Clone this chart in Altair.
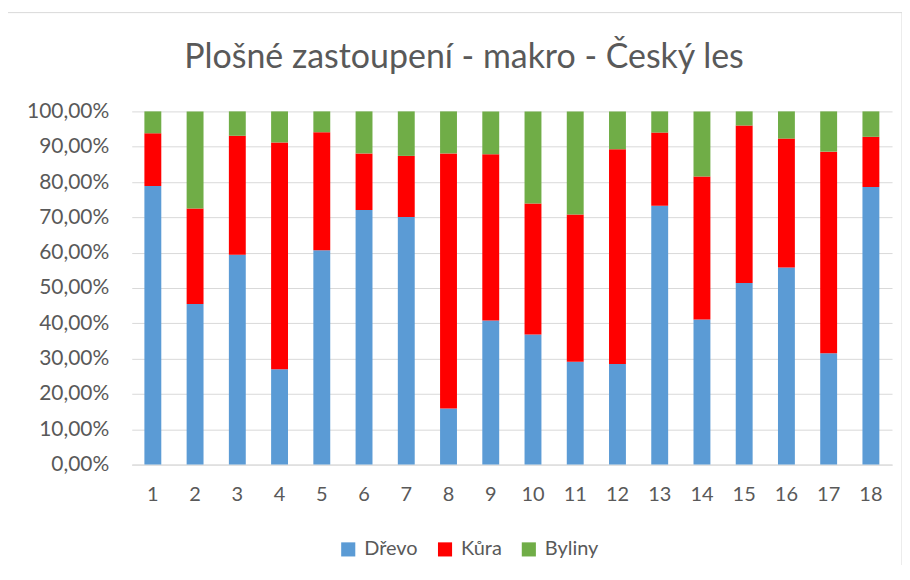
import altair as alt
import pandas as pd

title_text = "Plošné zastoupení - makro - Český les"
categories = [str(i) for i in range(1, 19)]
series = ["Dřevo", "Kůra", "Byliny"]
colors = ["#5B9BD5", "#FF0000", "#70AD47"]

drevo = [78.9, 45.5, 59.4, 27.0, 60.7, 72.1, 70.1, 15.9, 40.8, 36.8, 29.1, 28.5, 73.3, 41.1, 51.4, 55.8, 31.5, 78.6]
kura = [14.9, 27.0, 33.7, 64.2, 33.4, 16.0, 17.3, 72.2, 47.1, 37.1, 41.7, 60.8, 20.7, 40.5, 44.6, 36.5, 57.1, 14.2]
byliny = [6.2, 27.5, 6.9, 8.8, 5.9, 11.9, 12.6, 11.9, 12.1, 26.1, 29.2, 10.7, 6.0, 18.4, 4.0, 7.7, 11.4, 7.2]

rows = []
for si, (name, vals) in enumerate(zip(series, [drevo, kura, byliny])):
    for c, v in zip(categories, vals):
        rows.append({"cat": c, "series": name, "value": v / 100.0, "ord": si})
df = pd.DataFrame(rows)

FONT = "Lato"
GRAY = "#595959"

bars = alt.Chart(df).mark_bar().encode(
    x=alt.X("cat:N", sort=categories, title=None,
            scale=alt.Scale(paddingInner=0.6, paddingOuter=0.3),
            axis=alt.Axis(labelAngle=0, labelFontSize=20, labelColor=GRAY, labelFont=FONT,
                          ticks=False, domainColor="#D9D9D9", labelPadding=20, grid=False)),
    y=alt.Y("value:Q", stack="zero", title=None,
            scale=alt.Scale(domain=[0, 1], nice=False),
            axis=alt.Axis(values=[i / 10 for i in range(11)],
                          labelExpr="replace(format(datum.value, '.2%'), '.', ',')",
                          labelFontSize=21, labelColor=GRAY, labelFont=FONT,
                          ticks=False, domain=False, gridColor="#D9D9D9", gridWidth=1,
                          labelPadding=23)),
    color=alt.Color("series:N", sort=series,
                    scale=alt.Scale(domain=series, range=colors),
                    legend=alt.Legend(title=None, orient="none", direction="horizontal",
                                      legendX=207, legendY=429, symbolType="square",
                                      symbolSize=200, symbolStrokeWidth=0,
                                      labelFontSize=20, labelColor=GRAY, labelFont=FONT,
                                      columnPadding=17, labelOffset=6)),
    order=alt.Order("ord:Q", sort="ascending"),
)

border = alt.Chart(pd.DataFrame({"a": [0]})).mark_rect(
    fill=None, stroke="#D9D9D9", strokeWidth=1, clip=False
).encode(
    x=alt.value(-125), x2=alt.value(772), y=alt.value(-99), y2=alt.value(464)
)

title = alt.Chart(pd.DataFrame({"t": [title_text]})).mark_text(
    fontSize=34, font=FONT, color=GRAY, align="center", baseline="alphabetic"
).encode(
    text="t:N", x=alt.value(333), y=alt.value(-43)
)

chart = alt.layer(border, title, bars).properties(
    width=762, height=354,
    autosize=alt.AutoSizeParams(type="none"),
    padding={"left": 124, "top": 103, "right": 10, "bottom": 100},
).configure_view(stroke=None)

chart.save("out.html", embed_options={"renderer": "svg", "actions": False})
